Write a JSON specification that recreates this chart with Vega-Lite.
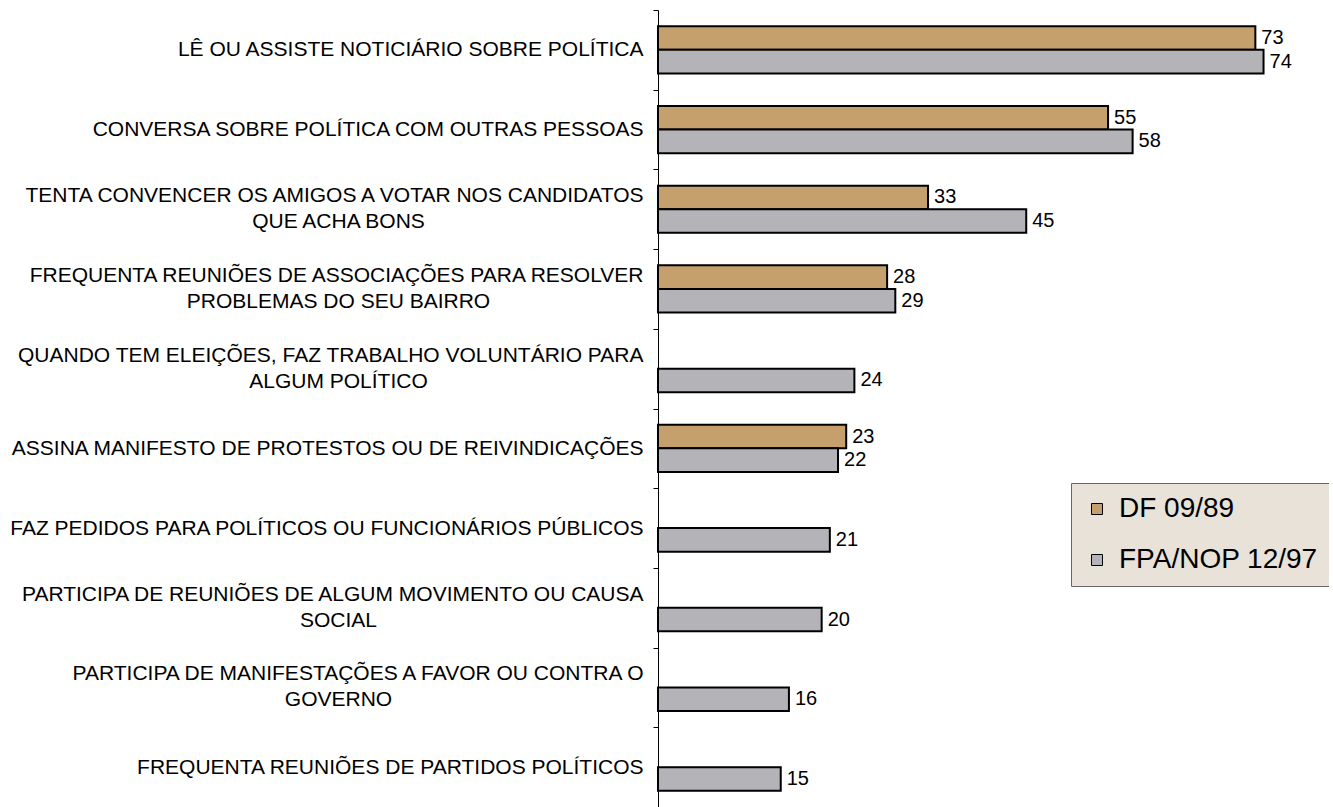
{
  "$schema": "https://vega.github.io/schema/vega-lite/v6.json",
  "autosize": {"type": "none"},
  "padding": {"left": 658, "top": 10, "right": 0, "bottom": 0},
  "width": 671,
  "height": 797,
  "background": "white",
  "config": {"view": {"stroke": null}, "font": "Liberation Sans"},
  "data": {"values": [
    {"atividade": "LÊ OU ASSISTE NOTICIÁRIO SOBRE POLÍTICA", "serie": "DF 09/89", "valor": 73},
    {"atividade": "LÊ OU ASSISTE NOTICIÁRIO SOBRE POLÍTICA", "serie": "FPA/NOP 12/97", "valor": 74},
    {"atividade": "CONVERSA SOBRE POLÍTICA COM OUTRAS PESSOAS", "serie": "DF 09/89", "valor": 55},
    {"atividade": "CONVERSA SOBRE POLÍTICA COM OUTRAS PESSOAS", "serie": "FPA/NOP 12/97", "valor": 58},
    {"atividade": "TENTA CONVENCER OS AMIGOS A VOTAR NOS CANDIDATOS|QUE  ACHA BONS", "serie": "DF 09/89", "valor": 33},
    {"atividade": "TENTA CONVENCER OS AMIGOS A VOTAR NOS CANDIDATOS|QUE  ACHA BONS", "serie": "FPA/NOP 12/97", "valor": 45},
    {"atividade": "FREQUENTA REUNIÕES DE ASSOCIAÇÕES PARA RESOLVER|PROBLEMAS DO SEU BAIRRO", "serie": "DF 09/89", "valor": 28},
    {"atividade": "FREQUENTA REUNIÕES DE ASSOCIAÇÕES PARA RESOLVER|PROBLEMAS DO SEU BAIRRO", "serie": "FPA/NOP 12/97", "valor": 29},
    {"atividade": "QUANDO TEM ELEIÇÕES, FAZ TRABALHO VOLUNTÁRIO PARA|ALGUM POLÍTICO", "serie": "FPA/NOP 12/97", "valor": 24},
    {"atividade": "ASSINA MANIFESTO DE PROTESTOS OU DE REIVINDICAÇÕES", "serie": "DF 09/89", "valor": 23},
    {"atividade": "ASSINA MANIFESTO DE PROTESTOS OU DE REIVINDICAÇÕES", "serie": "FPA/NOP 12/97", "valor": 22},
    {"atividade": "FAZ PEDIDOS PARA POLÍTICOS OU FUNCIONÁRIOS PÚBLICOS", "serie": "FPA/NOP 12/97", "valor": 21},
    {"atividade": "PARTICIPA DE REUNIÕES DE ALGUM MOVIMENTO OU CAUSA|SOCIAL", "serie": "FPA/NOP 12/97", "valor": 20},
    {"atividade": "PARTICIPA DE  MANIFESTAÇÕES A FAVOR OU CONTRA O|GOVERNO", "serie": "FPA/NOP 12/97", "valor": 16},
    {"atividade": "FREQUENTA REUNIÕES DE PARTIDOS POLÍTICOS", "serie": "FPA/NOP 12/97", "valor": 15}
  ]},
  "encoding": {
    "yOffset": {
      "field": "serie", "type": "nominal",
      "scale": {"domain": ["DF 09/89", "FPA/NOP 12/97"], "paddingInner": 0, "paddingOuter": 0.69}
    },
    "x": {"field": "valor", "type": "quantitative", "scale": {"domain": [0, 82]}, "axis": null}
  },
  "resolve": {"axis": {"y": "independent"}},
  "layer": [
    {
      "transform": [{"filter": "datum.serie === 'DF 09/89'"}],
      "mark": {"type": "bar", "stroke": "#000", "strokeWidth": 2},
      "encoding": {
        "y": {
          "field": "atividade", "type": "nominal", "sort": null,
          "scale": {
            "domain": [
              "LÊ OU ASSISTE NOTICIÁRIO SOBRE POLÍTICA",
              "CONVERSA SOBRE POLÍTICA COM OUTRAS PESSOAS",
              "TENTA CONVENCER OS AMIGOS A VOTAR NOS CANDIDATOS|QUE  ACHA BONS",
              "FREQUENTA REUNIÕES DE ASSOCIAÇÕES PARA RESOLVER|PROBLEMAS DO SEU BAIRRO",
              "QUANDO TEM ELEIÇÕES, FAZ TRABALHO VOLUNTÁRIO PARA|ALGUM POLÍTICO",
              "ASSINA MANIFESTO DE PROTESTOS OU DE REIVINDICAÇÕES",
              "FAZ PEDIDOS PARA POLÍTICOS OU FUNCIONÁRIOS PÚBLICOS",
              "PARTICIPA DE REUNIÕES DE ALGUM MOVIMENTO OU CAUSA|SOCIAL",
              "PARTICIPA DE  MANIFESTAÇÕES A FAVOR OU CONTRA O|GOVERNO",
              "FREQUENTA REUNIÕES DE PARTIDOS POLÍTICOS"
            ],
            "paddingInner": 0, "paddingOuter": 0
          },
          "axis": {
            "orient": "left", "title": null, "tickBand": "extent", "tickSize": 5, "tickColor": "#000", "domainColor": "#000",
            "labelExpr": "indexof(datum.label, '|') >= 0 ? '' : datum.label", "labelFontSize": 21,
            "labelColor": "#000", "labelPadding": 10, "labelLimit": 700, "labelFont": "Liberation Sans"
          }
        },
        "color": {
          "field": "serie", "type": "nominal",
          "scale": {"domain": ["DF 09/89", "FPA/NOP 12/97"], "range": ["#c6a06c", "#b4b4b8"]},
          "legend": {
            "title": null, "orient": "none", "legendX": 413, "legendY": 473,
            "fillColor": "#e8e2d8", "strokeColor": "#666", "padding": 12,
            "labelFontSize": 28, "labelFont": "Liberation Sans", "labelColor": "#000", "labelLimit": 400,
            "symbolType": "square", "symbolSize": 121, "symbolStrokeColor": "#000", "symbolStrokeWidth": 1,
            "symbolOpacity": 1, "rowPadding": 23, "labelOffset": 8
          }
        }
      }
    },
    {
      "transform": [{"filter": "datum.serie === 'FPA/NOP 12/97'"}],
      "mark": {"type": "bar", "stroke": "#000", "strokeWidth": 2},
      "encoding": {
        "y": {
          "field": "atividade", "type": "nominal", "sort": null,
          "axis": {
            "orient": "left", "title": null, "domain": false, "tickSize": 5, "tickOpacity": 0,
            "labelExpr": "indexof(datum.label, '|') >= 0 ? split(datum.label, '|')[0] : ''", "labelFontSize": 21,
            "labelOffset": -13,
            "labelColor": "#000", "labelPadding": 10, "labelLimit": 700, "labelFont": "Liberation Sans"
          }
        },
        "color": {"field": "serie", "type": "nominal"}
      }
    },
    {
      "mark": {"type": "text", "align": "left", "baseline": "middle", "dx": 6, "fontSize": 20, "font": "Liberation Sans", "color": "#000"},
      "encoding": {
        "y": {
          "field": "atividade", "type": "nominal", "sort": null,
          "axis": {
            "orient": "left", "title": null, "domain": false, "tickSize": 5, "tickOpacity": 0,
            "labelExpr": "indexof(datum.label, '|') >= 0 ? split(datum.label, '|')[1] : ''", "labelFontSize": 21,
            "labelOffset": 13, "labelAlign": "center",
            "labelColor": "#000", "labelPadding": 315, "labelLimit": 700, "labelFont": "Liberation Sans"
          }
        },
        "text": {"field": "valor", "type": "quantitative"}
      }
    }
  ]
}
